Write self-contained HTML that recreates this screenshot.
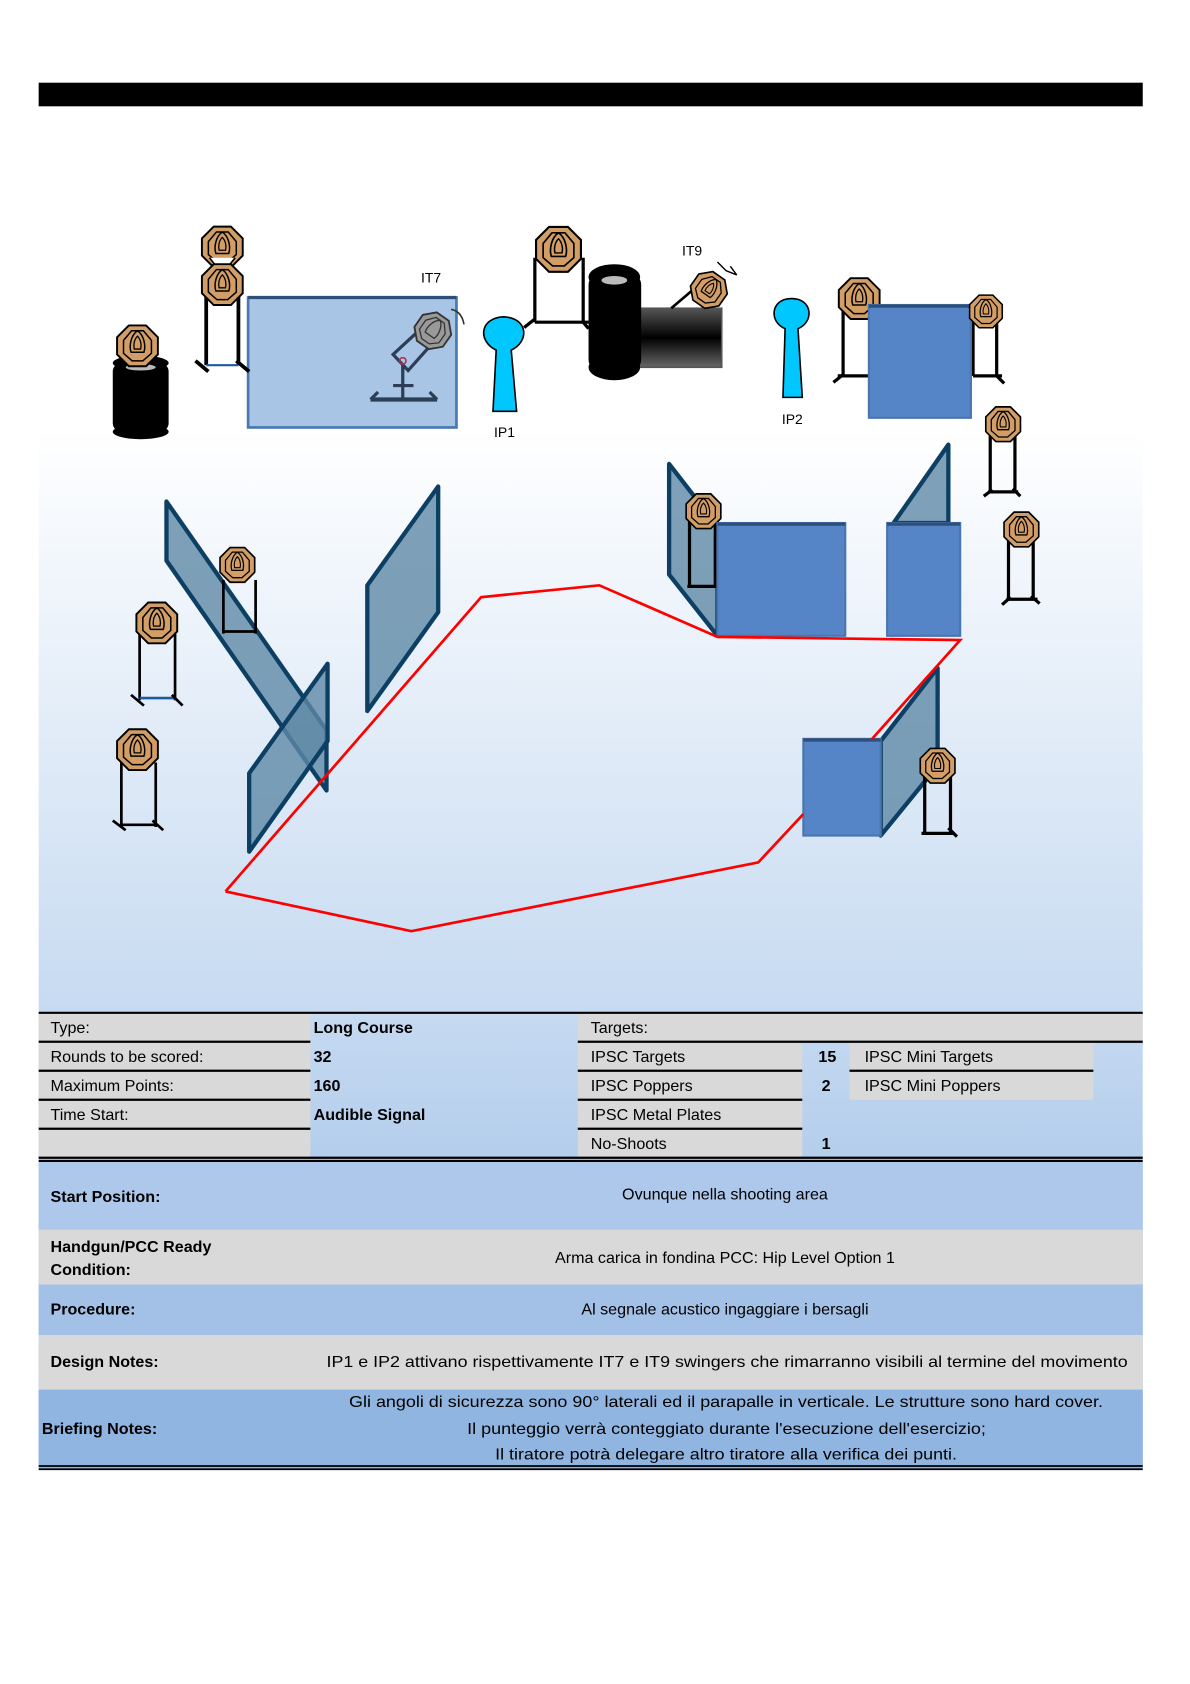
<!DOCTYPE html>
<html><head><meta charset="utf-8"><style>
html,body{margin:0;padding:0;background:#fff;}
svg{display:block;}
text{font-family:"Liberation Sans",Arial,sans-serif;}
</style></head><body>
<svg width="1190" height="1684" viewBox="0 0 1108 1568" preserveAspectRatio="none" xmlns="http://www.w3.org/2000/svg">
<defs>
<linearGradient id="bg" x1="0" y1="0" x2="0" y2="1">
<stop offset="0" stop-color="#ffffff"/><stop offset="1" stop-color="#c6daf1"/>
</linearGradient>
<linearGradient id="tb" x1="0" y1="0" x2="0" y2="1">
<stop offset="0" stop-color="#c6daf1"/><stop offset="1" stop-color="#8db3e1"/>
</linearGradient>
<linearGradient id="pipe" x1="0" y1="0" x2="0" y2="1">
<stop offset="0" stop-color="#555"/><stop offset="0.5" stop-color="#000"/><stop offset="1" stop-color="#666"/>
</linearGradient>
<g id="hd">
<polygon points="-8,-19 8,-19 19,-8 19,8 8,19 -8,19 -19,8 -19,-8" fill="#d39e65" stroke="#000" stroke-width="1.8"/>
<polygon points="-5.5,-14 5.5,-14 13,-5 13,7 5,14 -5,14 -13,7 -13,-5" fill="none" stroke="#000" stroke-width="1.4"/>
<path d="M0,-14 C6,-10 8,0 6,6 L-6,6 C-8,0 -6,-10 0,-14 Z" fill="none" stroke="#000" stroke-width="1.4"/>
<path d="M0,-9 C3,-6 4,-1 3,3 L-3,3 C-4,-1 -3,-6 0,-9 Z" fill="none" stroke="#000" stroke-width="1.2"/>
</g>
</defs>
<rect x="0" y="0" width="1108" height="1568" fill="#fff"/>
<rect x="36" y="400" width="1028" height="543" fill="url(#bg)"/>
<rect x="36" y="943" width="1028" height="425" fill="url(#tb)"/>
<rect x="36" y="77" width="1028" height="22" fill="#000"/>

<!-- IT7 box -->
<rect x="231" y="277" width="194" height="121" fill="#a9c5e6" stroke="#4a78b0" stroke-width="2.5"/>
<line x1="231" y1="277" x2="425" y2="277" stroke="#2d4f7a" stroke-width="3"/>
<g stroke="#2c3e55" stroke-width="3" fill="none">
<line x1="345" y1="372" x2="407" y2="372" stroke-width="4"/>
<line x1="345" y1="372" x2="352" y2="365"/><line x1="407" y1="372" x2="400" y2="365"/>
<line x1="375" y1="338" x2="375" y2="372"/><line x1="366" y1="359" x2="385" y2="359"/>
<polygon points="366,330 392,306 404,318 380,345" fill="#a9c5e6"/>
</g>
<circle cx="375" cy="336" r="3" fill="none" stroke="#b03050" stroke-width="1.5"/>
<g transform="translate(403,308) rotate(35) scale(0.85)"><polygon points="-8,-19 8,-19 19,-8 19,8 8,19 -8,19 -19,8 -19,-8" fill="#999" stroke="#333" stroke-width="2"/><polygon points="-5.5,-14 5.5,-14 13,-5 13,7 5,14 -5,14 -13,7 -13,-5" fill="none" stroke="#333" stroke-width="1.4"/><path d="M0,-14 C6,-10 8,0 6,6 L-6,6 C-8,0 -6,-10 0,-14 Z" fill="none" stroke="#333" stroke-width="1.4"/></g>
<path d="M420,288 q10,2 12,14" fill="none" stroke="#333" stroke-width="1.5"/>
<text x="392" y="263" font-size="13">IT7</text>

<!-- stacked targets left -->
<g stroke="#000" stroke-width="3.5" fill="none">
<line x1="192" y1="265" x2="192" y2="340"/><line x1="222" y1="265" x2="222" y2="340"/>
<line x1="192" y1="340" x2="222" y2="340" stroke="#1e5aa0" stroke-width="2"/>
<line x1="182" y1="336" x2="194" y2="346"/><line x1="220" y1="336" x2="232" y2="346"/>
</g>
<use href="#hd" x="207" y="230"/>
<path d="M195,240 L207,255 L219,240" fill="#fff" stroke="#000" stroke-width="1.5"/>
<use href="#hd" x="207" y="265"/>

<!-- barrel left -->
<g fill="#000">
<rect x="105" y="338" width="52" height="64" rx="8"/>
<ellipse cx="131" cy="338" rx="26" ry="7"/><ellipse cx="131" cy="402" rx="26" ry="7"/>
</g>
<ellipse cx="131" cy="342" rx="14" ry="3" fill="#bbb"/>
<use href="#hd" x="128" y="322"/>

<!-- target above barrels -->
<g stroke="#000" stroke-width="3" fill="none">
<line x1="498" y1="240" x2="498" y2="300"/><line x1="543" y1="240" x2="543" y2="300"/>
<line x1="498" y1="300" x2="548" y2="300"/>
<line x1="488" y1="305" x2="498" y2="297"/><line x1="543" y1="300" x2="548" y2="306"/>
</g>
<use href="#hd" x="520" y="232" transform="translate(-52,-23) scale(1.1)"/>

<!-- pipe + barrel -->
<rect x="595" y="287" width="77" height="55" fill="url(#pipe)" stroke="#555" stroke-width="1.5"/>
<line x1="625" y1="287" x2="645" y2="270" stroke="#000" stroke-width="2.5"/>
<g fill="#000">
<rect x="548" y="255" width="49" height="90" rx="10"/>
<ellipse cx="572" cy="258" rx="24" ry="12"/><ellipse cx="572" cy="342" rx="24" ry="12"/>
</g>
<ellipse cx="572" cy="261" rx="12" ry="4" fill="#bbb"/>
<g transform="translate(660,270) rotate(35) scale(0.85)"><use href="#hd"/></g>
<path d="M668,244 l8,8 l10,4 m-6,-8 l6,8" fill="none" stroke="#000" stroke-width="1.3"/>
<text x="635" y="238" font-size="13">IT9</text>

<!-- IP1 IP2 -->
<path d="M462,326 C445,318 446,296 469,295 C492,296 493,318 476,326 L481,383 L459,383 Z" fill="#00c8ff" stroke="#000" stroke-width="1.5"/>
<text x="460" y="407" font-size="13">IP1</text>
<path d="M731,306 C716,300 717,278 737,278 C757,278 758,300 743,306 L747,370 L729,370 Z" fill="#00c8ff" stroke="#000" stroke-width="1.5"/>
<text x="728" y="395" font-size="13">IP2</text>

<!-- targets near right box -->
<g stroke="#000" stroke-width="3" fill="none">
<line x1="785" y1="285" x2="785" y2="350"/><line x1="818" y1="285" x2="818" y2="350"/><line x1="780" y1="350" x2="820" y2="350"/><line x1="776" y1="356" x2="786" y2="348"/>
<line x1="906" y1="296" x2="906" y2="350"/><line x1="928" y1="296" x2="928" y2="350"/><line x1="906" y1="350" x2="933" y2="350"/><line x1="928" y1="350" x2="935" y2="357"/>
<line x1="922" y1="400" x2="922" y2="458"/><line x1="945" y1="400" x2="945" y2="458"/><line x1="920" y1="458" x2="948" y2="458"/><line x1="916" y1="462" x2="924" y2="456"/><line x1="943" y1="455" x2="950" y2="462"/>
<line x1="939" y1="500" x2="939" y2="558"/><line x1="962" y1="500" x2="962" y2="558"/><line x1="937" y1="558" x2="966" y2="558"/><line x1="933" y1="563" x2="941" y2="556"/><line x1="960" y1="555" x2="968" y2="562"/>
</g>
<use href="#hd" x="800" y="278"/>
<rect x="809" y="284" width="95" height="105" fill="#5585c6" stroke="#4a76b0" stroke-width="2"/>
<line x1="809" y1="285" x2="904" y2="285" stroke="#2d4f7a" stroke-width="3"/>
<g transform="translate(918,290) scale(0.8)"><use href="#hd"/></g>
<g transform="translate(934,395) scale(0.85)"><use href="#hd"/></g>
<g transform="translate(951,493) scale(0.85)"><use href="#hd"/></g>

<!-- left walls -->
<g stroke="#0c3f63" stroke-width="4" stroke-linejoin="round" fill="#5f8aa6" fill-opacity="0.8">
<polygon points="155,467 304,680 304,736 155,522"/>
</g>
<g stroke="#000" stroke-width="2.5" fill="none">
<line x1="208" y1="540" x2="208" y2="590"/><line x1="238" y1="540" x2="238" y2="590"/><line x1="208" y1="588" x2="238" y2="588"/>
<line x1="130" y1="590" x2="130" y2="652"/><line x1="163" y1="590" x2="163" y2="652"/><line x1="130" y1="650" x2="163" y2="650" stroke="#1e5aa0"/>
<line x1="122" y1="647" x2="134" y2="657"/><line x1="160" y1="647" x2="170" y2="657"/>
<line x1="113" y1="710" x2="113" y2="770"/><line x1="145" y1="710" x2="145" y2="770"/><line x1="113" y1="768" x2="145" y2="768"/>
<line x1="105" y1="764" x2="117" y2="773"/><line x1="142" y1="764" x2="152" y2="773"/>
</g>
<g transform="translate(221,526) scale(0.85)"><use href="#hd"/></g>
<use href="#hd" x="146" y="580"/>
<use href="#hd" x="128" y="698"/>
<g stroke="#0c3f63" stroke-width="4" stroke-linejoin="round" fill="#5f8aa6" fill-opacity="0.8">
<polygon points="232,720 305,618 305,690 232,793"/>
<polygon points="342,545 408,453 408,570 342,662"/>
</g>

<!-- right walls and boxes -->
<g stroke="#0c3f63" stroke-width="4" stroke-linejoin="round" fill="#5f8aa6" fill-opacity="0.8">
<polygon points="623,432 668,490 668,592 623,535"/>
<polygon points="832,487 883,414 883,487"/>
<polygon points="820,690 873,622 873,713 820,778"/>
</g>
<g stroke="#000" stroke-width="3" fill="none"><line x1="642" y1="485" x2="642" y2="546"/><line x1="666" y1="485" x2="666" y2="546"/><line x1="640" y1="546" x2="672" y2="546"/><line x1="668" y1="541" x2="677" y2="549"/></g>
<g transform="translate(655,476) scale(0.85)"><use href="#hd"/></g>
<rect x="668" y="487" width="119" height="105" fill="#5585c6" stroke="#4a76b0" stroke-width="2"/>
<line x1="668" y1="488" x2="787" y2="488" stroke="#2d4f7a" stroke-width="3"/>
<rect x="826" y="487" width="68" height="105" fill="#5585c6" stroke="#4a76b0" stroke-width="2"/>
<line x1="826" y1="488" x2="894" y2="488" stroke="#2d4f7a" stroke-width="3"/>
<rect x="748" y="688" width="72" height="90" fill="#5585c6" stroke="#4a76b0" stroke-width="2"/>
<line x1="748" y1="689" x2="820" y2="689" stroke="#2d4f7a" stroke-width="3"/>
<g stroke="#000" stroke-width="3" fill="none"><line x1="861" y1="722" x2="861" y2="776"/><line x1="885" y1="722" x2="885" y2="776"/><line x1="858" y1="776" x2="888" y2="776"/><line x1="883" y1="771" x2="891" y2="779"/></g>
<g transform="translate(873,713) scale(0.85)"><use href="#hd"/></g>

<!-- red boundary -->
<polyline points="210,830 448,556 558,545 668,593 894,596 812,688" fill="none" stroke="#ff0000" stroke-width="2.5"/>
<polyline points="748,758 706,803 383,867 210,830" fill="none" stroke="#ff0000" stroke-width="2.5"/>

<!-- TABLE -->
<g fill="#d9d9d9">
<rect x="36" y="943" width="253" height="135"/>
<rect x="538" y="943" width="526" height="27"/>
<rect x="538" y="970" width="209" height="108"/>
<rect x="791" y="970" width="227" height="54"/>
</g>
<g stroke="#000" stroke-width="2">
<line x1="36" y1="943" x2="1064" y2="943"/>
<line x1="36" y1="970" x2="289" y2="970"/><line x1="538" y1="970" x2="1064" y2="970"/>
<line x1="36" y1="997" x2="289" y2="997"/><line x1="538" y1="997" x2="747" y2="997"/><line x1="791" y1="997" x2="1018" y2="997"/>
<line x1="36" y1="1024" x2="289" y2="1024"/><line x1="538" y1="1024" x2="747" y2="1024"/>
<line x1="36" y1="1051" x2="289" y2="1051"/><line x1="538" y1="1051" x2="747" y2="1051"/>
<line x1="36" y1="1078" x2="1064" y2="1078"/><line x1="36" y1="1081" x2="1064" y2="1081"/>
</g>
<rect x="36" y="1082" width="1028" height="63" fill="#adc8ea"/>
<rect x="36" y="1145" width="1028" height="51" fill="#d9d9d9"/>
<rect x="36" y="1196" width="1028" height="47" fill="#a3c1e7"/>
<rect x="36" y="1243" width="1028" height="51" fill="#d9d9d9"/>
<rect x="36" y="1294" width="1028" height="71" fill="#90b5e1"/>
<g stroke="#000" stroke-width="1.6"><line x1="36" y1="1365" x2="1064" y2="1365"/><line x1="36" y1="1368" x2="1064" y2="1368"/></g>

<g font-size="15" fill="#000">
<text x="47" y="962">Type:</text>
<text x="47" y="989">Rounds to be scored:</text>
<text x="47" y="1016">Maximum Points:</text>
<text x="47" y="1043">Time Start:</text>
<g font-weight="bold"><text x="292" y="962">Long Course</text><text x="292" y="989">32</text><text x="292" y="1016">160</text><text x="292" y="1043">Audible Signal</text></g>
<text x="550" y="962">Targets:</text>
<text x="550" y="989">IPSC Targets</text>
<text x="550" y="1016">IPSC Poppers</text>
<text x="550" y="1043">IPSC Metal Plates</text>
<text x="550" y="1070">No-Shoots</text>
<g font-weight="bold"><text x="762" y="989">15</text><text x="765" y="1016">2</text><text x="765" y="1070">1</text></g>
<text x="805" y="989">IPSC Mini Targets</text>
<text x="805" y="1016">IPSC Mini Poppers</text>
<g font-weight="bold">
<text x="47" y="1119">Start Position:</text>
<text x="47" y="1166">Handgun/PCC Ready</text>
<text x="47" y="1187">Condition:</text>
<text x="47" y="1224">Procedure:</text>
<text x="47" y="1273">Design Notes:</text>
<text x="39" y="1335">Briefing Notes:</text>
</g>
<text x="675" y="1117" text-anchor="middle">Ovunque nella shooting area</text>
<text x="675" y="1176" text-anchor="middle">Arma carica in fondina PCC: Hip Level Option 1</text>
<text x="675" y="1224" text-anchor="middle">Al segnale acustico ingaggiare i bersagli</text>
<text x="304" y="1273" textLength="746" lengthAdjust="spacingAndGlyphs">IP1 e IP2 attivano rispettivamente  IT7 e IT9 swingers che rimarranno visibili al termine del movimento</text>
<text x="325" y="1310" textLength="702" lengthAdjust="spacingAndGlyphs">Gli angoli di sicurezza sono 90° laterali ed il parapalle in verticale. Le strutture sono hard cover.</text>
<text x="435" y="1335" textLength="483" lengthAdjust="spacingAndGlyphs">Il punteggio verrà conteggiato durante l'esecuzione dell'esercizio;</text>
<text x="461" y="1359" textLength="430" lengthAdjust="spacingAndGlyphs">Il tiratore potrà delegare altro tiratore alla verifica dei punti.</text>
</g>
</svg>
</body></html>
